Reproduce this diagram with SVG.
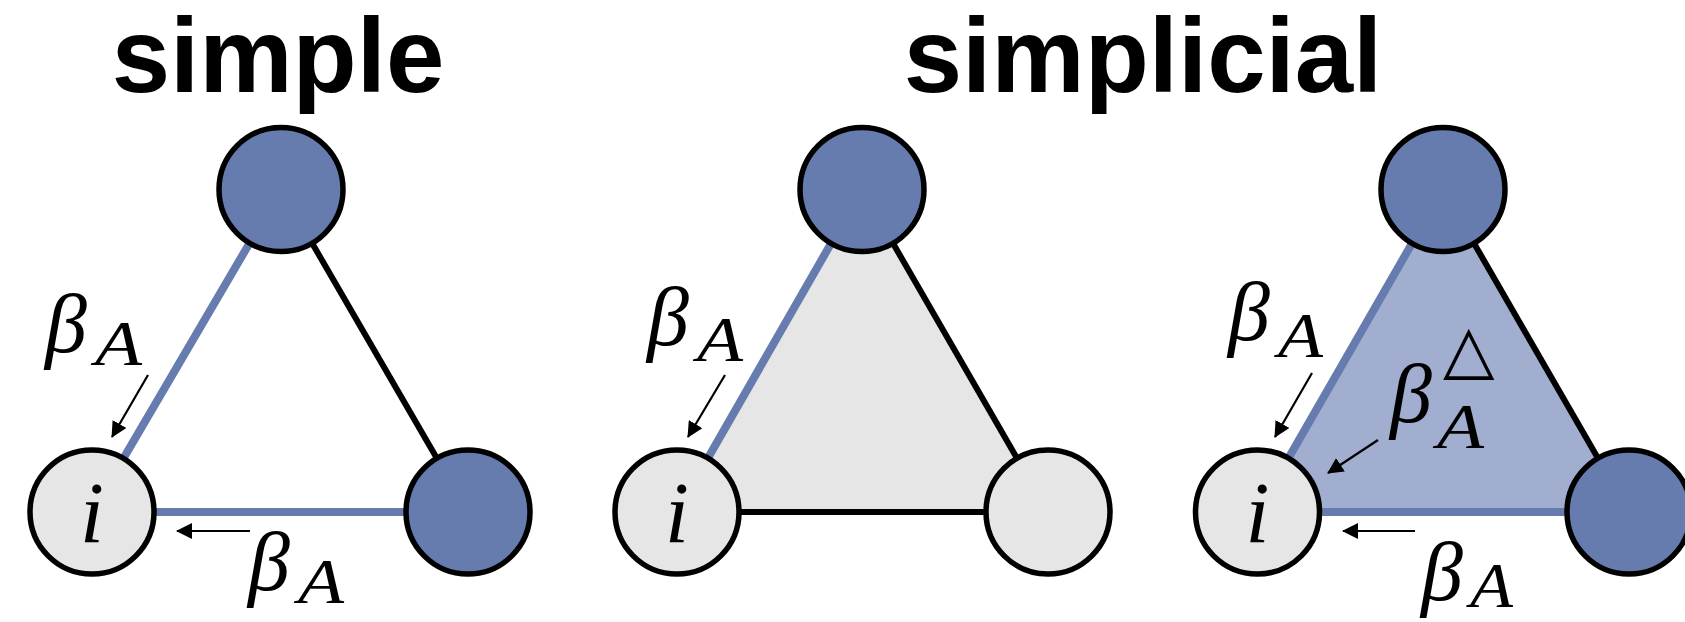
<svg xmlns="http://www.w3.org/2000/svg" width="1685" height="622" viewBox="0 0 1685 622">
<style>
.title{font-family:"Liberation Sans",Arial,sans-serif;font-weight:bold;font-size:105px;fill:#000;text-anchor:middle}
.node{stroke:#000;stroke-width:5.5}
.blue{fill:#667bae}
.gray{fill:#e6e6e6}
.eb{stroke:#667bae;stroke-width:8;fill:none}
.ek{stroke:#000;stroke-width:6;fill:none}
.arr{stroke:#000;stroke-width:2.2;fill:none;marker-end:url(#ah)}
.m{font-family:"Liberation Serif","Times New Roman",serif;font-style:italic;fill:#000}
.beta{font-size:84px}
.sub{font-size:64px}
.lab{font-size:86px;text-anchor:middle}
.tri{font-family:"DejaVu Sans",sans-serif;font-size:67px;fill:#000}
</style>
<defs>
<marker id="ah" viewBox="0 0 16 16" refX="15" refY="8" markerWidth="16" markerHeight="16" markerUnits="userSpaceOnUse" orient="auto">
<path d="M0,0 L16,8 L0,16 z" fill="#000"/>
</marker>
</defs>
<rect width="1685" height="622" fill="#fff"/>
<g id="titles">
<text class="title" x="278" y="92">simple</text>
<text class="title" x="1143" y="92">simplicial</text>
</g>
<g id="faces">
<polygon points="677,512 862,189.5 1048,512" class="gray"/>
<polygon points="1257.5,512 1443,189.5 1629,512" fill="#a1aecf"/>
</g>
<g id="connectors">
<line x1="92" y1="512" x2="281" y2="189.5" class="eb"/>
<line x1="92" y1="512" x2="468" y2="512" class="eb"/>
<line x1="281" y1="189.5" x2="468" y2="512" class="ek"/>
<line x1="677" y1="512" x2="862" y2="189.5" class="eb"/>
<line x1="677" y1="512" x2="1048" y2="512" class="ek"/>
<line x1="862" y1="189.5" x2="1048" y2="512" class="ek"/>
<line x1="1257.5" y1="512" x2="1443" y2="189.5" class="eb"/>
<line x1="1257.5" y1="512" x2="1629" y2="512" class="eb"/>
<line x1="1443" y1="189.5" x2="1629" y2="512" class="ek"/>
<line x1="148" y1="375" x2="112" y2="437" class="arr"/>
<line x1="250" y1="531" x2="177" y2="531" class="arr"/>
<line x1="725" y1="375" x2="688" y2="437" class="arr"/>
<line x1="1312" y1="373" x2="1275" y2="437" class="arr"/>
<line x1="1378" y1="440" x2="1328" y2="473" class="arr"/>
<line x1="1415" y1="531" x2="1343" y2="531" class="arr"/>
</g>
<g id="p1-top"><circle cx="281" cy="189.5" r="62" class="node blue"/></g>
<g id="p1-i"><circle cx="92" cy="512" r="62" class="node gray"/><text class="m lab" x="92" y="542">i</text></g>
<g id="p1-right"><circle cx="468" cy="512" r="62" class="node blue"/></g>
<g id="p2-top"><circle cx="862" cy="189.5" r="62" class="node blue"/></g>
<g id="p2-i"><circle cx="677" cy="512" r="62" class="node gray"/><text class="m lab" x="677" y="542">i</text></g>
<g id="p2-right"><circle cx="1048" cy="512" r="62" class="node gray"/></g>
<g id="p3-top"><circle cx="1443" cy="189.5" r="62" class="node blue"/></g>
<g id="p3-i"><circle cx="1257.5" cy="512" r="62" class="node gray"/><text class="m lab" x="1257.5" y="542">i</text></g>
<g id="p3-right"><circle cx="1629" cy="512" r="62" class="node blue"/></g>
<g id="labels">
<text class="m beta" x="45" y="352">β</text><text class="m sub" x="95" y="365" textLength="47" lengthAdjust="spacingAndGlyphs">A</text>
<text class="m beta" x="248" y="590">β</text><text class="m sub" x="298" y="603" textLength="46" lengthAdjust="spacingAndGlyphs">A</text>
<text class="m beta" x="647" y="345">β</text><text class="m sub" x="697" y="361" textLength="46" lengthAdjust="spacingAndGlyphs">A</text>
<text class="m beta" x="1228" y="340">β</text><text class="m sub" x="1278" y="357" textLength="45" lengthAdjust="spacingAndGlyphs">A</text>
<text class="m beta" x="1390" y="422">β</text><text class="tri" x="1443" y="372">△</text><text class="m sub" x="1437" y="448" textLength="47" lengthAdjust="spacingAndGlyphs">A</text>
<text class="m beta" x="1421" y="600">β</text><text class="m sub" x="1470" y="607" textLength="43" lengthAdjust="spacingAndGlyphs">A</text>
</g>
</svg>
